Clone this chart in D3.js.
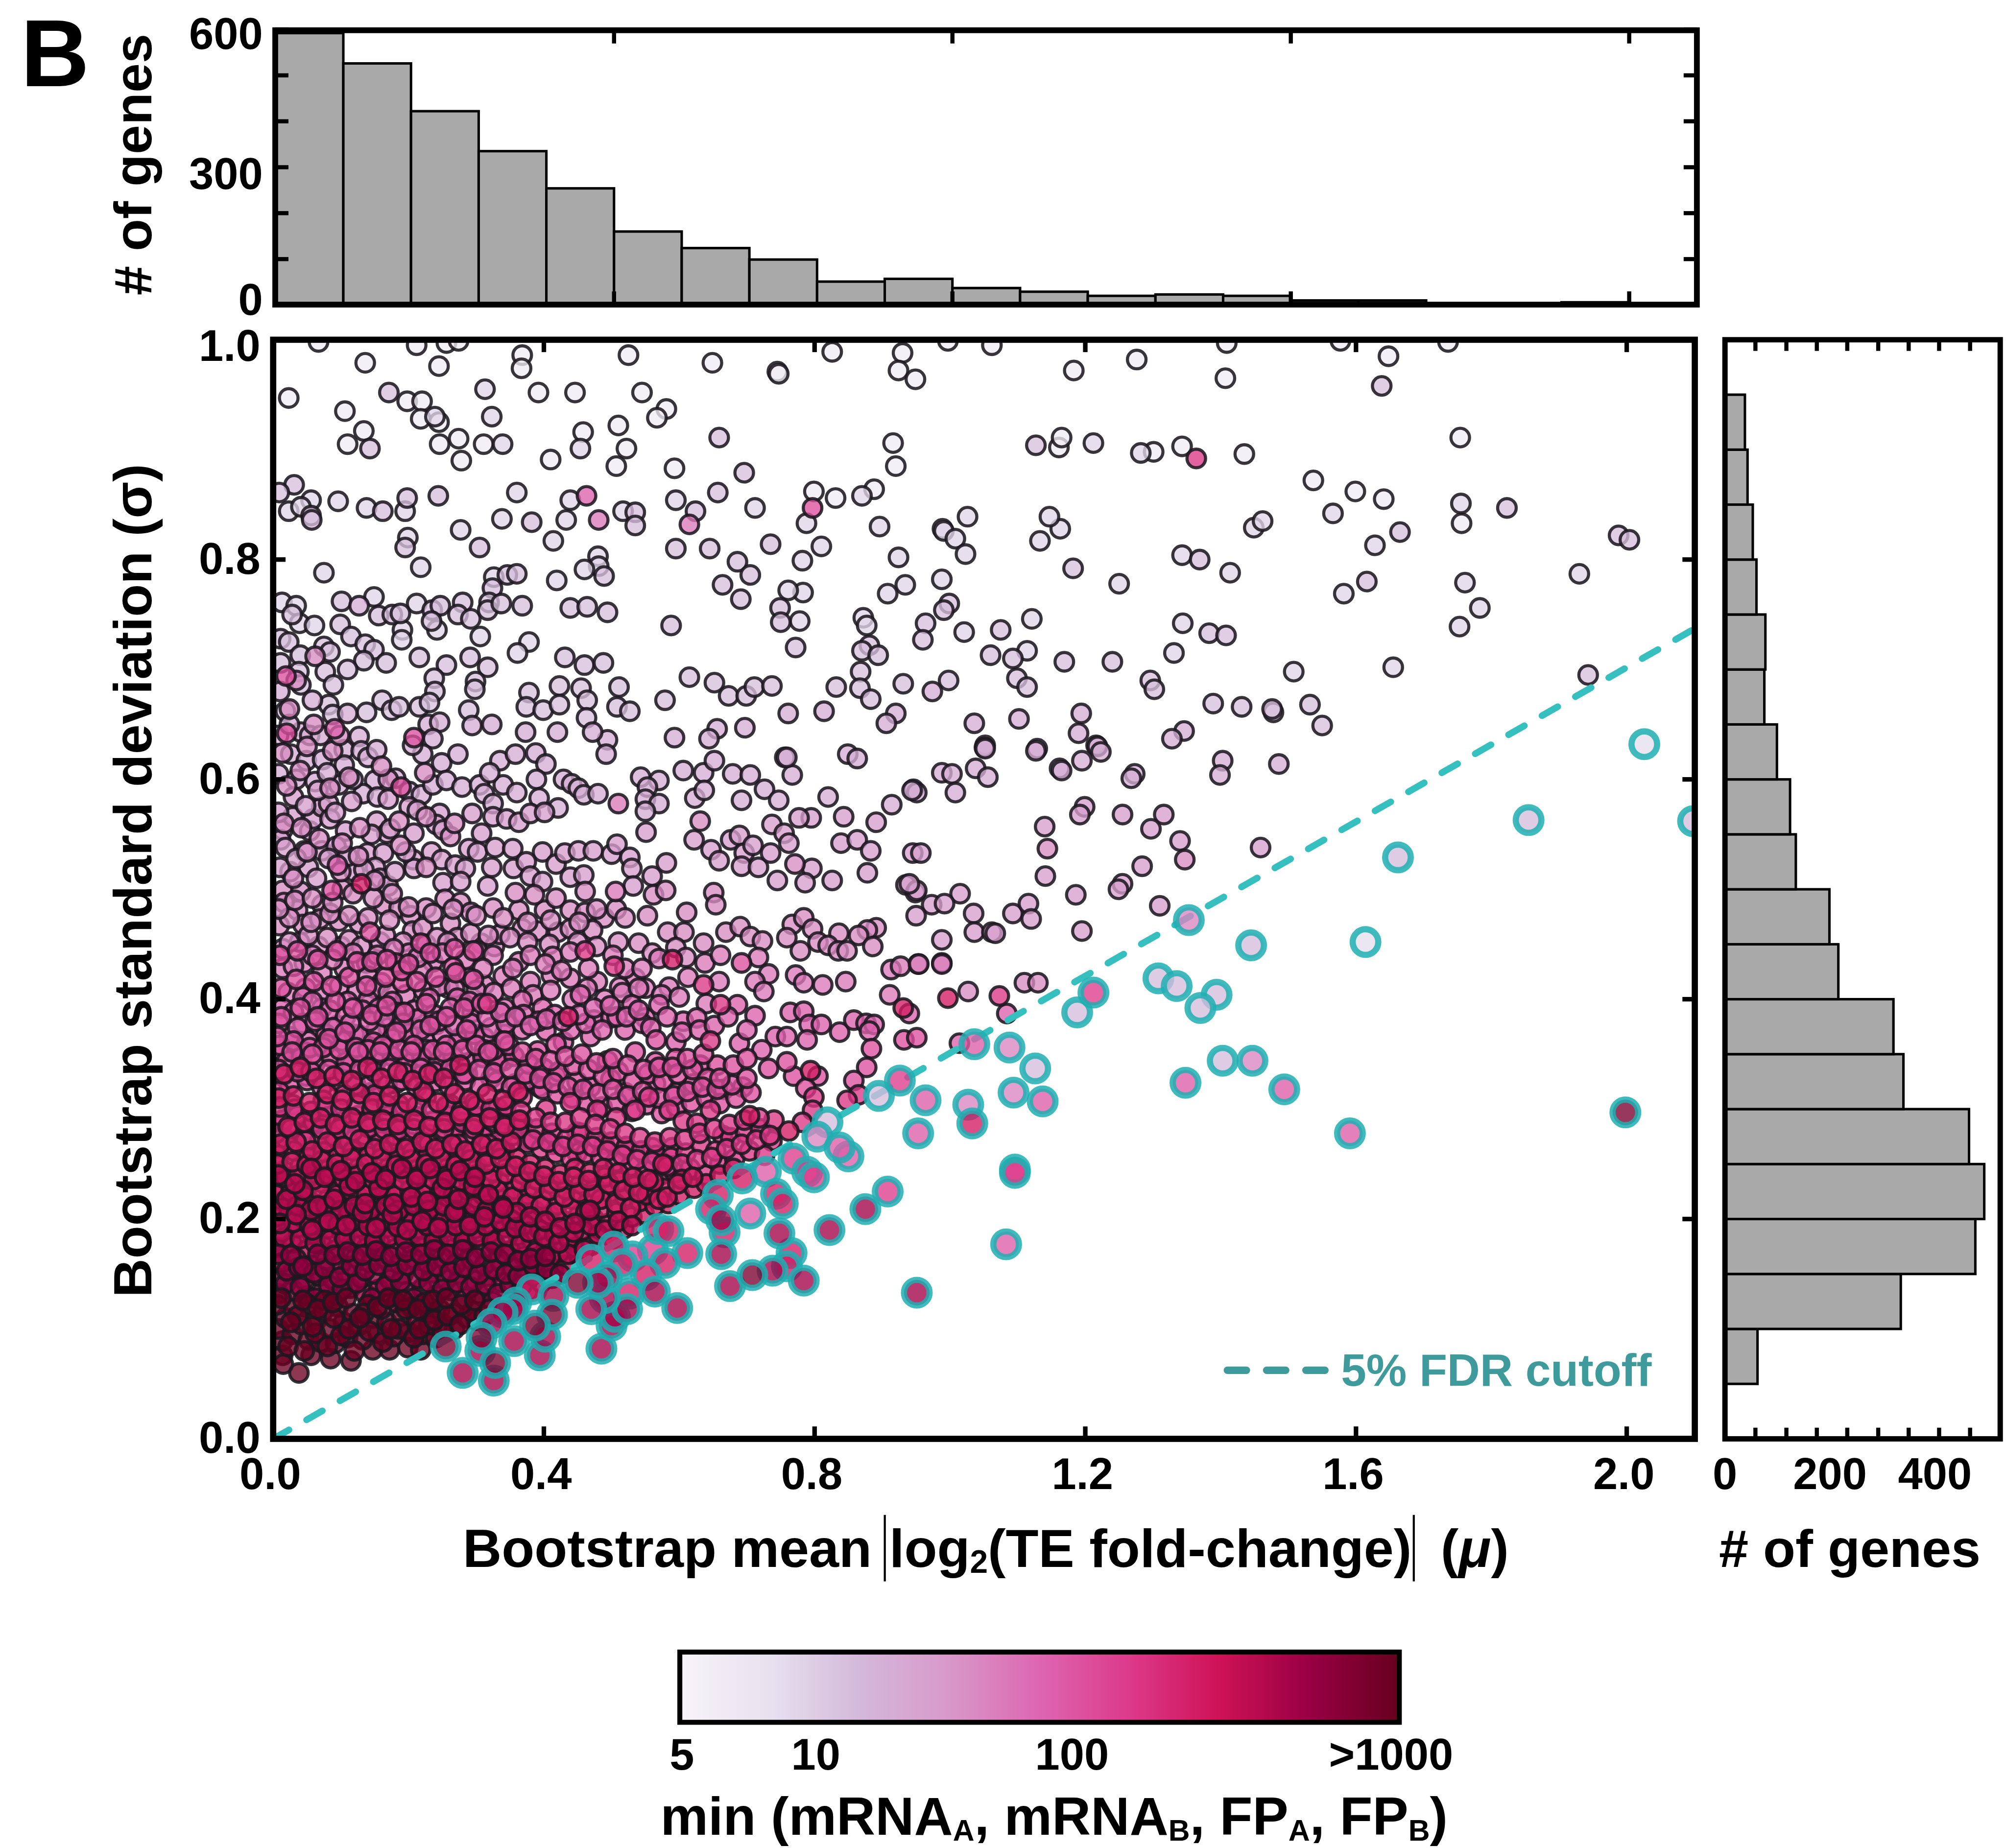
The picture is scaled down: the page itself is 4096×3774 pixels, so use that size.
<!DOCTYPE html>
<html>
<head>
<meta charset="utf-8">
<script src="https://cdn.jsdelivr.net/npm/d3@7"></script>
<style>
body { margin: 0; background: #fff; }
text { font-family: "Liberation Sans", Arial, sans-serif; font-weight: bold; fill: #000; }
</style>
</head>
<body>
<svg id="fig"></svg>
<script>
// top histogram, 0.1 wide bins of mu
var muCounts = [592, 526, 422, 335, 254, 160, 124, 99, 51, 57, 37, 29, 20, 23, 20, 10, 10, 3, 2, 6, 0];
var muBinWidth = 0.1;
// right histogram, 0.05 wide bins of sigma, from 0.05 up
var sigmaCounts = [62, 335, 477, 494, 465, 340, 321, 216, 199, 135, 124, 99, 75, 77, 60, 53, 43, 38];
var sigmaBinWidth = 0.05;
var sigmaBinStart = 0.05;

var mainXTicks = [0, 0.4, 0.8, 1.2, 1.6, 2.0];
var mainYTicks = [0, 0.2, 0.4, 0.6, 0.8, 1.0];
var topXTicks = [0.5, 1.0, 1.5, 2.0];
var topYTicks = [0, 100, 200, 300, 400, 500, 600];
var topYLabels = [0, 300, 600];
var rightMinorTicks = [58, 117, 175, 233, 292, 350, 408, 467];
var rightLabels = [0, 200, 400];
var colorbarTicks = [5, 10, 100, 1000];
var colorbarTickLabels = ["5", "10", "100", ">1000"];
var purd = ["#f7f4f9", "#e7e1ef", "#d4b9da", "#d898c9", "#dd66b0", "#dc3a8a", "#ce1256", "#980043", "#67001f"];
var cutoff = [[0, 0], [2.1, 0.737]];

// genes: x,y pairs in thousandths, grouped by min count
var min6 = [67,998,212,995,256,997,274,999,368,986,367,974,525,986,649,979,745,971,747,969,136,979,245,976,23,947,198,944,220,944,106,935,218,928,245,925,392,952,446,952,545,952,581,937,567,929,134,917,110,905,246,905,274,910,311,905,278,890,410,891,458,916,510,922,522,901,507,885,593,883,826,989,930,988,924,972,949,964,1062,995,997,999,1183,972,1276,982,1407,965,1409,997,916,906,920,885,1161,902,1165,911,1301,898,1343,903,1435,896,1537,872,799,862,831,856,888,864,1577,999,1648,985,1736,998,1754,911,1641,855,1756,833,1599,862];
var min9 = [239,930,313,955,323,930,339,905,454,901,338,837,277,827,439,854,138,847,23,844,56,854,41,848,96,853,195,844,360,861,433,836,517,844,595,854,712,847,199,820,414,817,480,803,481,794,460,791,75,788,218,793,419,781,326,784,149,766,212,760,13,761,34,758,39,742,61,740,191,736,190,727,242,736,306,730,378,725,361,715,1212,906,1282,897,870,858,788,833,896,830,989,828,991,826,1026,839,1008,819,1023,805,924,802,810,812,782,799,1163,828,1133,817,1147,839,1250,778,1343,804,1414,788,1449,829,1462,835,988,782,934,777,908,769,783,770,761,772,1121,746,778,744,872,747,877,740,1021,734,1344,742,1566,842,1755,851,1628,813,1761,779,1783,756,1753,739,1582,769,1930,787,1655,702,1508,698,1331,715,1114,717];
var min13 = [171,952,143,901,162,844,198,856,244,858,31,868,9,861,56,840,57,836,382,834,535,843,535,831,657,861,624,844,659,911,696,879,195,811,305,811,489,785,595,810,645,810,735,814,686,798,705,786,664,777,691,764,346,786,324,774,360,787,101,762,156,749,176,750,188,751,235,754,247,758,234,744,280,761,273,750,292,746,319,761,317,754,337,760,368,758,439,756,464,757,494,752,588,740,749,756,750,743,99,741,28,750,11,728,23,725,75,721,84,716,40,713,115,730,136,723,149,718,134,708,167,706,216,711,291,711,317,702,431,711,460,704,488,706,11,706,38,698,41,686,77,698,89,686,110,700,256,704,238,692,239,680,299,689,298,682,615,693,652,688,673,676,699,676,711,684,737,685,579,672,511,684,423,685,455,683,464,672,378,679,374,666,399,663,423,668,508,666,527,662,463,656,161,672,175,663,186,666,138,661,216,666,231,670,82,668,88,659,18,662,289,663,1127,904,1182,792,1369,800,1383,733,1408,731,1075,736,964,742,960,727,999,760,991,754,772,720,881,722,870,717,894,713,1060,713,1093,710,1169,707,1240,707,868,698,867,683,883,673,832,684,931,687,998,690,1099,692,1114,684,1296,690,1302,682,1389,669,1431,666,1478,661,1476,664,1532,668,1550,649,1638,958,1823,847,1665,825,1616,780,1988,822,2004,818,1943,695];
var min20 = [294,649,229,650,246,652,323,650,373,643,420,643,656,646,697,647,593,638,644,637,494,636,472,643,41,643,54,640,127,639,236,637,761,660,814,662,920,660,906,651,1036,651,1102,655,1194,660,1190,642,1346,644,1328,637,1052,631,1129,628,1216,631,1051,629,1127,626,1218,630,1223,625,1195,617,1162,610,1165,608,1273,605,1268,601,1403,617,1399,604,1486,614,1038,610,1056,602,988,606,1003,605,1008,588,946,591,951,588,26,623,49,617,73,618,105,627,105,613,130,626,140,620,153,627,221,623,249,615,273,623,206,631,335,617,358,623,388,624,403,614,492,623,606,608,636,606,652,617,679,605,705,604,726,591,747,581,756,620,97,595,150,599,133,587,154,584,181,601,201,589,219,586,236,595,256,599,279,593,305,595,312,587,340,595,360,588,325,578,389,600,393,583,421,574,429,600,441,596,451,592,459,586,480,587,543,602,570,599,553,593,550,582,570,578,550,571,623,583,637,590,692,581,849,623,863,619,767,604,759,620,820,584,914,577,944,590,1052,628,974,680,127,758,320,606,
  8,605,34,600,62,598,80,606,118,600,8,640,24,650,70,640,110,660,10,680,58,672];
var min28 = [14,554,11,545,18,538,29,566,54,553,59,564,72,575,82,578,84,564,107,553,153,562,168,551,145,550,173,555,46,535,72,535,93,539,201,575,213,572,246,569,241,559,251,554,208,551,294,569,325,566,345,564,363,561,380,569,401,570,308,551,289,537,302,534,328,538,354,537,398,534,622,545,647,536,659,526,551,552,676,545,689,549,696,533,709,540,692,521,717,520,737,559,735,533,755,551,745,508,139,533,163,533,52,520,25,516,120,516,151,520,158,510,170,503,207,527,208,519,234,534,249,527,269,522,284,519,251,506,277,507,317,503,323,520,355,519,374,525,380,512,398,507,418,523,431,533,451,535,473,535,500,532,508,541,527,529,530,519,532,503,439,511,459,513,560,512,581,524,843,566,891,561,795,565,777,565,839,542,863,545,883,535,762,542,945,533,957,533,796,519,826,508,878,515,786,506,935,504,949,497,1015,496,1140,557,1141,512,1199,575,1192,568,1255,568,1316,568,1297,555,1340,544,1459,538,1186,495,1255,505,1249,500,1284,521,1310,485,951,499,940,505,1035,478,1036,461,1062,461,1067,460,1093,478,1116,487,1120,473,988,454,953,432,988,433,1195,462,973,486,992,487,950,476,
  10,520,34,528,64,510,82,528,110,530,134,518,180,516,196,534,8,570,30,584,48,576,66,590,92,570,116,580,170,582];
var min40 = [14,499,41,498,102,500,461,498,562,495,580,499,651,497,654,486,72,486,36,481,16,488,163,486,186,483,203,476,226,483,254,491,277,488,292,479,325,483,363,481,401,481,386,495,358,497,418,492,439,481,461,479,489,474,507,482,520,474,553,476,611,479,9,467,44,468,69,473,97,471,127,469,206,462,221,465,262,469,272,456,307,451,327,448,335,459,368,464,391,462,421,461,439,464,472,463,540,451,583,461,607,461,636,451,669,461,690,466,705,457,723,453,767,468,784,474,797,464,891,465,878,463,865,458,836,460,886,448,779,444,805,452,820,449,835,444,848,444,759,456,1110,415,1130,415,1027,407,14,446,39,452,67,448,100,448,158,452,595,447,631,562,1144,537,1347,527,771,523,
  24,452,52,458,80,456,112,454,130,448,166,458,192,452,226,450,242,456,258,452,292,460,318,458,350,456,376,452,408,450,450,452,478,448,510,452,560,442,610,438,24,474,56,470,84,478,112,476,140,474,172,472,200,484,236,478,266,482,300,476,340,474,376,470,410,472,452,470,478,482,
  8,482,32,490,58,492,88,488,118,496,148,492,176,496,30,510,50,534,100,516,126,530,150,508,188,540,226,520,262,548,16,560,42,556,68,546,102,542,128,556,186,562,226,566,268,560,20,594,40,608,84,592,112,602,170,600,224,606,14,624,50,630,88,626,160,612,24,664,60,650,98,640,34,690,62,712];
var min55 = [138,433,201,442,236,434,302,444,325,440,363,434,413,439,439,443,535,419,570,437,638,433,661,440,717,438,732,423,14,428,46,433,72,424,105,428,140,421,160,415,221,426,259,410,289,420,312,413,340,421,380,416,411,422,439,419,479,416,512,411,550,410,585,411,613,420,659,416,712,416,725,407,913,427,927,430,954,432,988,432,772,422,784,415,812,413,846,416,911,404,30,430,58,440,88,436,118,442,154,440,178,446,214,438,250,442,284,436,310,428,354,428,380,440,402,432,426,426,466,428,502,440,520,428,545,428,481,836,615,832,510,578,506,498,
  22,406,48,410,74,406,98,412,124,408,150,410,170,406,196,404,222,408,246,412,268,410,300,408,326,406,352,410,384,404,410,408,442,400,464,410,490,400,516,406,540,410,574,404,600,402,640,396];
var min80 = [14,392,44,402,72,392,140,399,176,398,208,390,231,401,272,401,294,388,342,392,368,399,398,392,454,404,474,381,499,383,530,395,550,383,570,395,606,380,686,395,712,385,742,366,69,374,95,376,120,368,170,374,188,380,206,368,241,377,277,365,312,365,342,368,368,372,403,371,429,361,469,366,520,372,545,378,595,361,626,383,689,360,722,354,764,388,784,389,792,377,810,377,837,370,858,381,876,378,888,377,881,371,759,366,789,363,91,646,95,522,463,858,24,366,52,362,78,368,102,362,128,367,152,372,176,364,200,369,224,363,250,368,274,362,298,368,322,374,344,378,370,386,392,380,416,386,440,372,462,378,486,372,508,384,30,388,58,398,84,390,110,398,132,390,156,392,182,388,214,382,238,386,262,392,290,398,1014,360,940,387,1084,387,107,384,44,378,
  8,378,36,374,62,380,88,374,114,378,142,380,164,384,192,378,218,372,244,380,268,376,292,378,316,384,336,388,358,384,380,376,404,382,428,380,452,386,474,392,498,394,522,384,540,390,558,374,582,384,604,370,630,372,652,376,672,384,700,372];
var min110 = [14,352,46,352,79,359,115,340,148,361,170,356,196,346,226,354,267,338,312,354,340,344,391,353,418,359,449,325,494,344,535,352,565,343,595,346,631,340,656,340,694,320,732,337,14,330,49,330,145,315,181,323,221,332,251,340,287,332,322,328,358,323,393,320,418,330,469,320,499,327,520,315,565,323,595,315,621,323,884,355,877,338,858,326,932,363,805,330,769,330,787,319,759,343,566,363,666,318,24,322,50,326,72,320,96,325,122,322,144,326,168,322,190,326,212,320,240,325,260,321,284,326,306,320,330,325,352,320,376,326,398,318,420,314,442,310,464,306,486,302,508,306,530,298,552,304,574,296,596,302,618,306,640,310,660,305,684,310,706,315,20,344,42,348,62,342,86,347,108,343,130,348,152,343,176,348,198,342,220,347,244,343,266,348,288,342,310,347,332,343,356,348,378,341,400,337,422,334,444,340,466,336,488,330,510,334,532,326,554,332,576,326,598,332,620,336,642,328,19,694,20,642,208,638,189,593,87,499,143,461,218,451,266,429,191,415,181,433,692,433,951,365,797,847,
  8,336,36,334,56,334,82,336,104,333,128,336,150,334,172,337,194,333,218,337,238,334,262,337,282,332,304,336,326,333,350,337,372,332,394,328,414,324,436,320,458,318,480,314,502,318,524,312,546,316,570,310,592,312,612,316,634,320,656,318,678,322,700,328,10,358,30,362,54,356,74,356,98,354,122,356,140,354,162,358,186,354,208,358,236,354,256,358,280,354,300,358,326,354,348,358,368,352,388,346,410,344,432,348,456,350,478,342,502,346,524,340,548,336,570,338,590,338,612,346,636,350,660,328,680,340,700,346,
  6,366,28,352,58,350,82,364,106,370,126,352,158,352,182,370,204,352,232,376,252,352,286,372,318,352,342,362,12,384,40,392,66,384,92,398,118,392,146,386,168,394,194,388,226,396,256,384,282,392,308,396,12,410,34,418,60,416,86,412,112,420,138,412,166,420,190,426,212,416,240,420,270,424,296,418,10,440,36,444,66,436,94,444,124,434,146,434,168,436,200,432,232,442,268,446,296,444];
var min160 = [9,316,29,304,74,308,105,313,150,313,186,304,226,311,262,304,297,306,332,301,368,311,403,300,439,306,479,299,507,292,535,299,555,311,585,299,606,289,646,299,737,271,664,276,626,287,590,265,14,287,49,282,84,277,120,289,155,275,191,270,231,277,267,284,307,277,342,279,378,272,413,268,449,279,489,268,520,263,560,265,6,265,49,263,115,263,181,260,267,265,342,263,449,260,865,313,848,308,799,311,797,299,782,288,20,272,44,276,68,270,90,275,112,271,136,276,158,271,180,276,202,270,224,275,246,271,268,276,288,270,310,275,332,271,354,276,376,269,396,264,418,260,440,255,462,260,484,256,506,252,528,248,550,244,572,240,594,242,616,246,638,240,660,250,682,255,704,262,726,258,14,290,36,294,60,288,82,293,104,289,126,294,148,289,170,294,192,288,214,293,236,289,258,294,280,288,302,293,324,289,346,294,368,287,390,282,412,278,434,273,456,278,478,274,500,270,522,266,544,262,566,258,588,256,610,260,632,268,654,262,676,274,698,278,720,282,740,290,317,396,504,430,636,413,461,444,661,395,646,362,1073,403,1364,892,
  4,278,26,282,48,271,72,282,98,282,118,280,142,283,164,282,186,281,208,282,230,268,252,282,274,268,296,282,318,268,340,286,362,282,384,272,406,270,428,266,450,268,472,266,494,262,516,258,538,254,560,252,582,248,604,250,626,254,648,256,670,264,692,268,714,272,734,276,10,302,32,300,56,298,78,302,100,300,124,304,146,300,168,304,190,298,212,303,234,299,256,303,278,298,300,303,322,300,344,303,366,298,388,292,410,288,432,288,454,292,476,286,498,282,520,278,542,274,564,270,586,274,608,272,630,278,652,282,674,286,696,290,718,292];
var min250 = [14,216,38,220,60,214,82,219,104,215,126,220,148,215,170,220,192,214,214,219,236,215,258,220,278,214,300,219,322,215,344,220,366,213,386,208,408,204,430,198,452,204,474,200,496,196,518,191,6,230,26,234,50,228,72,233,94,229,116,234,138,229,160,234,182,228,204,233,226,229,248,234,268,228,290,233,312,229,334,234,356,227,376,222,398,218,420,213,442,218,464,214,486,210,508,206,530,202,548,205,16,244,40,248,62,242,84,247,106,243,128,248,150,243,172,248,194,242,216,247,238,243,260,248,280,242,302,247,324,243,346,248,368,241,388,236,410,232,432,227,454,232,476,228,498,224,520,220,542,216,564,212,584,214,8,258,30,262,52,256,74,261,96,257,118,262,140,257,162,262,184,256,206,261,228,257,250,262,272,256,294,261,316,257,338,262,360,255,380,250,402,246,424,241,446,246,468,242,490,238,512,234,534,230,556,226,578,228,600,222,622,228,640,232,436,384,704,294,794,335,590,436,931,392,997,401,762,280,130,505,
  4,222,26,224,48,220,70,225,94,222,114,226,138,222,158,226,180,221,202,226,224,222,246,226,266,221,288,226,310,222,332,226,354,220,376,214,396,212,418,206,440,210,462,206,484,218,506,214,528,210,552,222,570,218,18,238,38,240,60,236,82,240,104,237,126,241,148,236,170,241,192,235,214,240,236,236,258,241,278,235,300,240,322,236,344,241,366,234,386,228,408,226,430,220,452,224,474,222,496,232,518,226,540,224,562,234,582,220,604,236,6,250,28,252,50,249,72,253,94,250,116,255,138,250,160,255,182,249,204,254,226,250,248,255,270,249,292,254,314,250,336,255,358,248,378,243,400,239,422,234,444,238,466,235,488,246,510,242,532,238,554,236,576,250,598,232,620,238,660,240,680,246,
  10,268,34,270,58,262,80,270,104,266,128,272,150,264,172,268,196,264,220,270,240,264,264,268,284,262,308,268,330,264,352,270,22,284,46,288,70,292,92,286,116,292,140,288,162,290,184,286,208,290,230,284,254,288,276,294,298,286,320,292,342,284,364,290,8,310,30,312,54,306,80,314,102,308,128,314,148,306,172,312,198,306,222,316,244,306,268,314,290,308,316,314,340,308,362,316,16,332,40,338,64,328,90,330,116,326,140,338,160,328,184,334,206,326,230,332,252,328,276,340];
var min380 = [6,174,28,178,50,172,72,177,92,172,116,179,138,174,158,178,180,173,202,178,222,174,244,179,266,173,286,178,308,172,328,177,350,171,370,166,392,160,414,154,432,158,452,166,12,188,36,192,58,186,80,191,102,187,124,192,146,187,168,192,190,186,212,191,234,187,256,192,276,186,298,191,320,187,342,192,362,185,382,181,404,176,424,170,446,174,470,176,6,202,24,206,46,200,68,205,90,200,112,205,134,201,156,206,178,200,200,205,222,201,244,206,264,200,286,205,308,200,330,205,352,199,372,195,394,190,416,186,436,182,458,190,480,186,502,182,
  16,183,40,182,62,178,84,181,106,182,128,184,150,180,172,184,194,182,216,184,238,180,260,184,282,180,302,184,324,180,346,184,366,178,388,170,410,166,436,168,460,172,30,197,54,194,74,198,96,195,118,198,140,194,162,198,184,193,206,198,228,194,250,198,270,194,292,198,314,194,336,198,358,192,378,188,400,184,422,178,444,188,470,194,490,190,14,210,36,212,56,208,78,212,100,208,120,212,144,208,166,212,186,208,208,212,230,208,252,212,272,208,296,212,316,208,338,212,360,206,380,202,402,198,424,192,446,196,468,208,510,198,530,194,
  10,196,34,204,58,190,82,198,108,194,132,206,152,192,176,204,198,190,220,198,244,192,268,206,290,194,312,202,20,218,44,226,66,212,90,218,112,230,136,214,156,228,178,214,204,220,228,216,250,228,274,218,296,230,318,222,340,210,8,240,32,232,56,246,76,238,100,244,122,234,146,242,166,236,190,246,212,236,232,246,256,236,276,244,298,238];
var min600 = [8,132,30,135,50,130,72,134,94,130,114,137,136,132,156,136,176,130,198,134,220,137,240,130,262,135,284,128,304,132,324,125,342,122,6,146,26,150,46,144,68,148,88,145,108,151,130,146,150,150,172,145,192,150,214,146,234,151,256,145,276,150,298,144,318,148,338,142,358,130,376,134,12,160,34,164,56,158,78,163,100,159,122,165,144,160,164,165,186,159,208,164,228,160,250,165,270,159,292,164,312,158,334,163,354,156,374,150,396,142,412,146,
  18,141,40,138,62,128,82,140,102,136,124,142,146,128,166,139,188,143,208,128,230,142,250,136,272,142,292,138,314,140,332,132,350,140,368,140,386,148,20,153,38,156,60,151,76,155,98,147,116,157,136,153,156,158,178,152,198,158,222,153,242,157,262,152,282,156,304,150,326,154,344,150,362,148,384,158,404,154,8,168,26,167,44,157,66,168,90,167,110,170,132,167,152,171,174,166,196,170,218,168,238,172,258,168,280,172,300,165,322,170,342,168,362,162,380,164,402,166,424,150];
var min1000 = [14,76,15,68,38,60,56,76,85,73,115,71,147,81,172,81,199,83,218,81,14,89,8,100,28,95,52,90,70,88,92,87,110,92,132,90,155,96,178,93,200,97,222,95,240,92,18,110,42,104,64,108,84,100,104,106,126,103,148,110,168,106,190,112,212,108,232,114,252,104,268,100,6,122,30,118,52,122,74,116,96,120,118,114,140,122,160,118,182,124,204,120,224,124,246,118,266,114,286,110,300,108,
  22,84,46,80,62,96,80,84,100,94,120,80,142,98,162,88,186,100,208,92,230,104,250,98,36,112,58,102,76,126,90,110,112,100,134,114,154,120,174,100,196,118,216,100,238,108,258,112,276,104,294,116,312,112,12,128,26,106,44,126,66,118,88,124,108,128,128,110,170,128,192,126,214,118,236,126,256,128,278,122,298,126,320,118];

// FDR-passing genes, same packing
var teal8 = [2026,632,1614,452];
var teal14 = [1855,563,2098,562,1662,529,1445,449,1308,419,1335,412,1394,404,1370,392,1188,388,1403,344,1126,337,895,312,819,288];
var teal45 = [1353,472,1447,344,1088,356,1027,304,1094,315,804,275];
var teal90 = [1348,324,1494,318,1591,278,1036,359,964,308,1137,307,953,278,1083,177,850,257,837,265,728,243,705,205];
var teal150 = [1212,406,1096,245,1096,242,769,255,789,243,799,238,908,225,561,172,531,166,926,326];
var teal250 = [693,237,657,222,743,223,753,214,667,188,569,191,584,189,612,169,579,160,766,169,759,157,551,149,526,132,470,163,503,175,516,159,382,136,1033,287,647,209];
var teal500 = [951,133,875,209,822,190,748,187,784,144,738,153,675,139,662,199,564,134,597,119,485,82,500,103,505,111,523,118,490,128,470,118,493,147,480,142,394,76,402,93,414,130,359,124,356,89,306,80,280,60,326,53,354,118,339,115,323,105,662,168];
var teal800 = [1998,297,708,149,450,142,412,113,387,103,328,69,308,92,255,84];

function unpack(count, flat) {
  var out = [];
  for (var i = 0; i < flat.length; i += 2) {
    out.push({x: flat[i] / 1000, y: flat[i + 1] / 1000, count: count});
  }
  return out;
}
var plainGenes = [].concat(unpack(6, min6), unpack(9, min9), unpack(13, min13), unpack(20, min20), unpack(28, min28),
  unpack(40, min40), unpack(55, min55), unpack(80, min80), unpack(110, min110), unpack(160, min160),
  unpack(250, min250), unpack(380, min380), unpack(600, min600), unpack(1000, min1000));
var tealGenes = [].concat(unpack(8, teal8), unpack(14, teal14), unpack(45, teal45), unpack(90, teal90),
  unpack(150, teal150), unpack(250, teal250), unpack(500, teal500), unpack(800, teal800));

// everything below is laid out in reference pixels, the viewBox does the 0.843
var svg = d3.select("#fig")
    .attr("width", 4096)
    .attr("height", 3774)
    .attr("viewBox", "0 0 4854 4472")
    .style("display", "block");

var x = d3.scaleLinear().domain([0, 2.1]).range([661, 4100]);
var y = d3.scaleLinear().domain([0, 1]).range([3482, 822]);
var topX = d3.scaleLinear().domain([0, 2.1]).range([667, 4106]);
var topY = d3.scaleLinear().domain([0, 600]).range([738, 71]);
var rightX = d3.scaleLinear().domain([0, 400]).range([4174, 4682]);
var barX = d3.scaleLog().domain(colorbarTicks).range([1650, 1974, 2594, 3366]);
var barLeft = 1645, barRight = 3386, barTop = 3998, barBottom = 4168;

var stopPos = purd.map(function(c, i) { return i / (purd.length - 1); });
var colorOf = d3.scaleLinear().domain(stopPos).range(purd);
function countColor(c) {
  return colorOf((barX(c) - barLeft) / (barRight - barLeft));
}

var defs = svg.append("defs");
defs.append("clipPath").attr("id", "mainClip").append("rect")
    .attr("x", x(0)).attr("y", y(1)).attr("width", x(2.1) - x(0)).attr("height", y(0) - y(1));
var grad = defs.append("linearGradient").attr("id", "countGrad");
grad.selectAll("stop").data(purd).enter().append("stop")
    .attr("offset", function(d, i) { return stopPos[i]; })
    .attr("stop-color", function(d) { return d; });

// histograms
svg.append("g").selectAll("rect").data(muCounts).enter().append("rect")
    .attr("x", function(d, i) { return topX(i * muBinWidth); })
    .attr("y", function(d) { return topY(d); })
    .attr("width", topX(muBinWidth) - topX(0))
    .attr("height", function(d) { return topY(0) - topY(d); })
    .attr("fill", "#a9a9a9").attr("stroke", "#000").attr("stroke-width", 6);

svg.append("g").selectAll("rect").data(sigmaCounts).enter().append("rect")
    .attr("x", rightX(0))
    .attr("y", function(d, i) { return y(sigmaBinStart + (i + 1) * sigmaBinWidth); })
    .attr("width", function(d) { return rightX(d) - rightX(0); })
    .attr("height", y(0) - y(sigmaBinWidth))
    .attr("fill", "#a9a9a9").attr("stroke", "#000").attr("stroke-width", 6);

// scatter
var scatter = svg.append("g").attr("clip-path", "url(#mainClip)");
scatter.append("g").selectAll("circle").data(plainGenes).enter().append("circle")
    .attr("cx", function(d) { return x(d.x); })
    .attr("cy", function(d) { return y(d.y); })
    .attr("r", 22.5)
    .attr("fill", function(d) { return countColor(d.count); })
    .attr("fill-opacity", 0.78)
    .attr("stroke", "#1c1820").attr("stroke-opacity", 0.88).attr("stroke-width", 7.5);

var cutoffLine = d3.line().x(function(d) { return x(d[0]); }).y(function(d) { return y(d[1]); });
scatter.append("path").datum(cutoff)
    .attr("d", cutoffLine)
    .attr("fill", "none").attr("stroke", "#36bfbf").attr("stroke-width", 16)
    .attr("stroke-linecap", "round").attr("stroke-dasharray", "44 49");

scatter.append("g").selectAll("circle").data(tealGenes).enter().append("circle")
    .attr("cx", function(d) { return x(d.x); })
    .attr("cy", function(d) { return y(d.y); })
    .attr("r", 31)
    .attr("fill", function(d) { return countColor(d.count); })
    .attr("fill-opacity", 0.78)
    .attr("stroke", "#1eafb2").attr("stroke-opacity", 0.85).attr("stroke-width", 15);

// frames
function frame(left, top, right, bottom, w) {
  svg.append("rect").attr("x", left).attr("y", top).attr("width", right - left).attr("height", bottom - top)
      .attr("fill", "none").attr("stroke", "#000").attr("stroke-width", w);
}
frame(661, 822, 4101, 3482, 15);
frame(666, 73, 4106, 737, 14);
frame(4174, 822, 4840, 3482, 13);

function axisAt(gen, tx, ty, w) {
  var g = svg.append("g").attr("transform", "translate(" + tx + "," + ty + ")").call(gen);
  g.select(".domain").remove();
  g.selectAll("line").attr("stroke", "#000").attr("stroke-width", w);
  g.selectAll("text").attr("font-size", 107).attr("fill", "#000");
  return g;
}
var fmt = d3.format(".1f");
var blank = function() { return ""; };

// main panel axes
var mainLeft = axisAt(d3.axisLeft(y).tickValues(mainYTicks).tickSize(-30).tickPadding(31).tickFormat(fmt).offset(0), 661, 0, 11);
mainLeft.selectAll("text").filter(function(d) { return d === 1; }).attr("transform", "translate(0,17)");
axisAt(d3.axisRight(y).tickValues(mainYTicks).tickSize(-30).tickFormat(blank).offset(0), 4101, 0, 11);
var mainBottom = axisAt(d3.axisBottom(x).tickValues(mainXTicks).tickSize(-30).tickPadding(45).tickFormat(fmt).offset(0), 0, 3482, 11);
mainBottom.selectAll("text").attr("dx", -7);
axisAt(d3.axisTop(x).tickValues(mainXTicks).tickSize(-30).tickFormat(blank).offset(0), 0, 822, 11);

// top histogram axes
var topNudge = {0: -10, 300: 18, 600: 13};
var topLeft = axisAt(d3.axisLeft(topY).tickValues(topYTicks).tickSize(-32).tickPadding(30)
    .tickFormat(function(d) { return topYLabels.indexOf(d) >= 0 ? d : ""; }).offset(0), 666, 0, 10);
topLeft.selectAll("text").attr("transform", function(d) { return "translate(0," + (topNudge[d] || 0) + ")"; });
axisAt(d3.axisRight(topY).tickValues(topYTicks).tickSize(-32).tickFormat(blank).offset(0), 4106, 0, 10);
axisAt(d3.axisBottom(topX).tickValues(topXTicks).tickSize(-32).tickFormat(blank).offset(0), 0, 737, 10);
axisAt(d3.axisTop(topX).tickValues(topXTicks).tickSize(-32).tickFormat(blank).offset(0), 0, 73, 10);

// right histogram axes
axisAt(d3.axisBottom(rightX).tickValues(rightMinorTicks).tickSize(-27).tickFormat(blank).offset(0), 0, 3482, 10);
axisAt(d3.axisTop(rightX).tickValues(rightMinorTicks).tickSize(-27).tickFormat(blank).offset(0), 0, 822, 10);
axisAt(d3.axisBottom(rightX).tickValues(rightLabels).tickSize(0).tickPadding(45).offset(0), 0, 3482, 0);

// legend
var legendX = d3.scaleLinear().domain([0, 1]).range([2970, 3212]);
svg.append("path").datum([0, 1])
    .attr("d", d3.line().x(function(d) { return legendX(d); }).y(3316))
    .attr("stroke", "#3f9a9c").attr("stroke-width", 18).attr("stroke-linecap", "round")
    .attr("stroke-dasharray", "46 49").attr("fill", "none");
svg.append("text").attr("x", 3245).attr("y", 3354).attr("font-size", 110)
    .style("fill", "#3f9a9c").text("5% FDR cutoff");

// colorbar
svg.append("rect").attr("x", barLeft).attr("y", barTop)
    .attr("width", barRight - barLeft).attr("height", barBottom - barTop)
    .attr("fill", "url(#countGrad)").attr("stroke", "#000").attr("stroke-width", 12);
svg.append("g").selectAll("text").data(colorbarTicks).enter().append("text")
    .attr("x", function(d) { return barX(d); })
    .attr("y", 4283)
    .attr("text-anchor", "middle")
    .attr("font-size", 107)
    .text(function(d, i) { return colorbarTickLabels[i]; });

// labels
svg.append("text").attr("x", 50).attr("y", 208).attr("font-size", 230).text("B");
svg.append("text").attr("transform", "translate(366,398) rotate(-90)").attr("text-anchor", "middle")
    .attr("font-size", 128).text("# of genes");
svg.append("text").attr("x", 4476).attr("y", 3792).attr("text-anchor", "middle")
    .attr("font-size", 128).text("# of genes");
svg.append("text").attr("transform", "translate(366,2131) rotate(-90)").attr("text-anchor", "middle")
    .attr("font-size", 130).text("Bootstrap standard deviation (σ)");

svg.append("text").attr("x", 1120).attr("y", 3792).attr("font-size", 130).text("Bootstrap mean");
var logText = svg.append("text").attr("x", 2152).attr("y", 3792).attr("font-size", 130);
logText.append("tspan").text("log");
logText.append("tspan").attr("font-size", 78).attr("dy", 14).text("2");
logText.append("tspan").attr("dy", -14).text("(TE fold-change)");
var muText = svg.append("text").attr("x", 3486).attr("y", 3792).attr("font-size", 130);
muText.append("tspan").text("(");
muText.append("tspan").attr("font-style", "italic").text("μ");
muText.append("tspan").text(")");
svg.append("g").selectAll("line").data([2141, 3421]).enter().append("line")
    .attr("x1", function(d) { return d; }).attr("x2", function(d) { return d; })
    .attr("y1", 3666).attr("y2", 3827)
    .attr("stroke", "#000").attr("stroke-width", 5);

var minText = svg.append("text").attr("x", 1598).attr("y", 4440).attr("font-size", 130);
[["min (mRNA", false], ["A", true], [", mRNA", false], ["B", true], [", FP", false], ["A", true], [", FP", false], ["B", true], [")", false]]
  .forEach(function(p, i, all) {
    var prevSub = i > 0 && all[i - 1][1];
    var t = minText.append("tspan").text(p[0]);
    if (p[1]) t.attr("font-size", 72).attr("dy", 14);
    else if (prevSub) t.attr("dy", -14);
  });
</script>
</body>
</html>
